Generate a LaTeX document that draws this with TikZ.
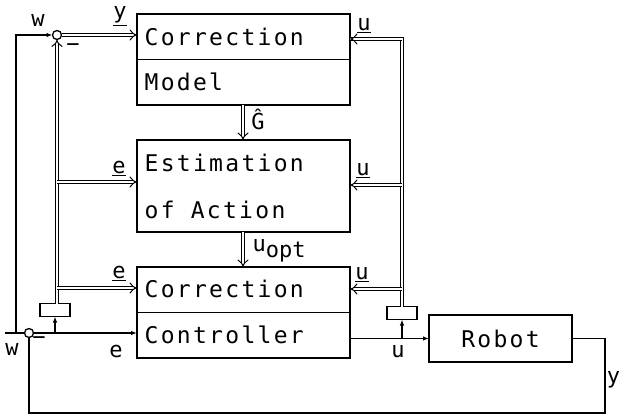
\documentclass[tikz,border=0pt]{standalone}
\usepackage{fontspec}
\setmonofont[LetterSpace=10]{DejaVu Sans Mono}
\newfontfamily\lblfont{DejaVu Sans Mono}
\usetikzlibrary{arrows.meta}
\begin{document}
\begin{tikzpicture}[x=1pt, y=-1pt, line width=1.3pt,
  box/.style={draw, rectangle, inner sep=0pt, outer sep=0pt, line width=1.4pt},
  txt/.style={font=\ttfamily\fontsize{23}{23}\selectfont, inner sep=0pt, anchor=west},
  lbl/.style={font=\lblfont\fontsize{22}{22}\selectfont, inner sep=0pt},
  dline/.style={double, double distance=2.8pt, line width=1pt},
  dbl/.style={dline, -{Implies[length=5pt]}},
  sarr/.style={-{Latex[length=6pt,width=4.5pt]}, line width=1.1pt},
  sumpt/.style={draw, circle, minimum size=9pt, inner sep=0pt, outer sep=0pt, line width=1.3pt},
  store/.style={draw, rectangle, minimum width=30pt, minimum height=13pt, inner sep=0pt, outer sep=0pt, line width=1.3pt}]

\useasboundingbox (0,0) rectangle (621,420);

% blocks
\node[box, minimum width=213pt, minimum height=91pt, anchor=north west] (cm) at (137,14) {};
\draw[line width=1.2pt] (cm.west) -- (cm.east);
\node[txt] at (144,37) {Correction};
\node[txt] at (144,82) {Model};

\node[box, minimum width=213pt, minimum height=92pt, anchor=north west] (ea) at (137,140) {};
\node[txt] at (144,163) {Estimation};
\node[txt] at (144,210) {of Action};

\node[box, minimum width=213pt, minimum height=91pt, anchor=north west] (cc) at (137,267) {};
\draw[line width=1.2pt] (cc.west) -- (cc.east);
\node[txt] at (144,289) {Correction};
\node[txt] at (144,335) {Controller};

\node[box, minimum width=143pt, minimum height=47pt, anchor=north west] (rb) at (429,315) {};
\node[txt, anchor=center] at (rb.center) {Robot};

% summing points and stores
\node[sumpt] (s1) at (57,35) {};
\node[sumpt] (s2) at (29,333) {};
\node[store] (lb) at (55,310) {};
\node[store] (rsb) at (402,313) {};

% setpoint inputs
\coordinate (win) at (5,333);
\coordinate (wj) at (16,333);
\draw[line width=1.1pt] (win) -- (s2.west);
\draw[sarr] (wj) |- (s1.west);

% left bus
\draw[dbl] (s1.east) -- (cm.west |- s1);
\draw[dbl] (lb.north -| s1) -- (s1.south);
\draw[dbl] (57,182) -- (ea.west |- 0,182);
\draw[dbl] (57,288) -- (cc.west |- 0,288);

% error line
\coordinate (ej) at (55,333);
\draw[sarr] (s2.east) -- (cc.west |- s2);
\draw[sarr] (ej) -- (lb.south);

% actuation line
\coordinate (uj) at (402,338.5);
\draw[sarr] (cc.east |- rb) -- (rb.west);
\draw[sarr] (uj) -- (rsb.south);

% right bus
\draw[dline] (rsb.north) -- (402,39) -- (cm.east |- 0,39);
\draw[dbl] (402,39) -- (cm.east |- 0,39);
\draw[dbl] (402,185) -- (ea.east |- 0,185);
\draw[dbl] (402,289) -- (cc.east |- 0,289);

% between blocks
\draw[dbl] (cm.south -| 243,0) -- (ea.north -| 243,0);
\draw[dbl] (ea.south -| 243,0) -- (cc.north -| 243,0);

% feedback
\coordinate (fb) at (605,413);
\draw[line width=1.1pt] (rb.east) -| (fb) -| (s2.south);

% labels
\node[lbl] at (38,20) {w};
\node[lbl] at (120,16) {\underline{y}};
\node[lbl] at (73,48) {−};
\node[lbl] at (119,168) {\underline{e}};
\node[lbl] at (119,273) {\underline{e}};
\node[lbl] at (364,26) {\underline{u}};
\node[lbl] at (363,171) {\underline{u}};
\node[lbl] at (362,275) {\underline{u}};
\node[lbl] at (258,119) {Ĝ};
\node[lbl, anchor=west] at (252,251) {u\raisebox{-6pt}{opt}};
\node[lbl] at (116,351) {e};
\node[lbl] at (12,349) {w};
\node[lbl] at (39,341) {−};
\node[lbl] at (398,352) {u};
\node[lbl] at (613.5,380) {y};
\end{tikzpicture}
\end{document}
